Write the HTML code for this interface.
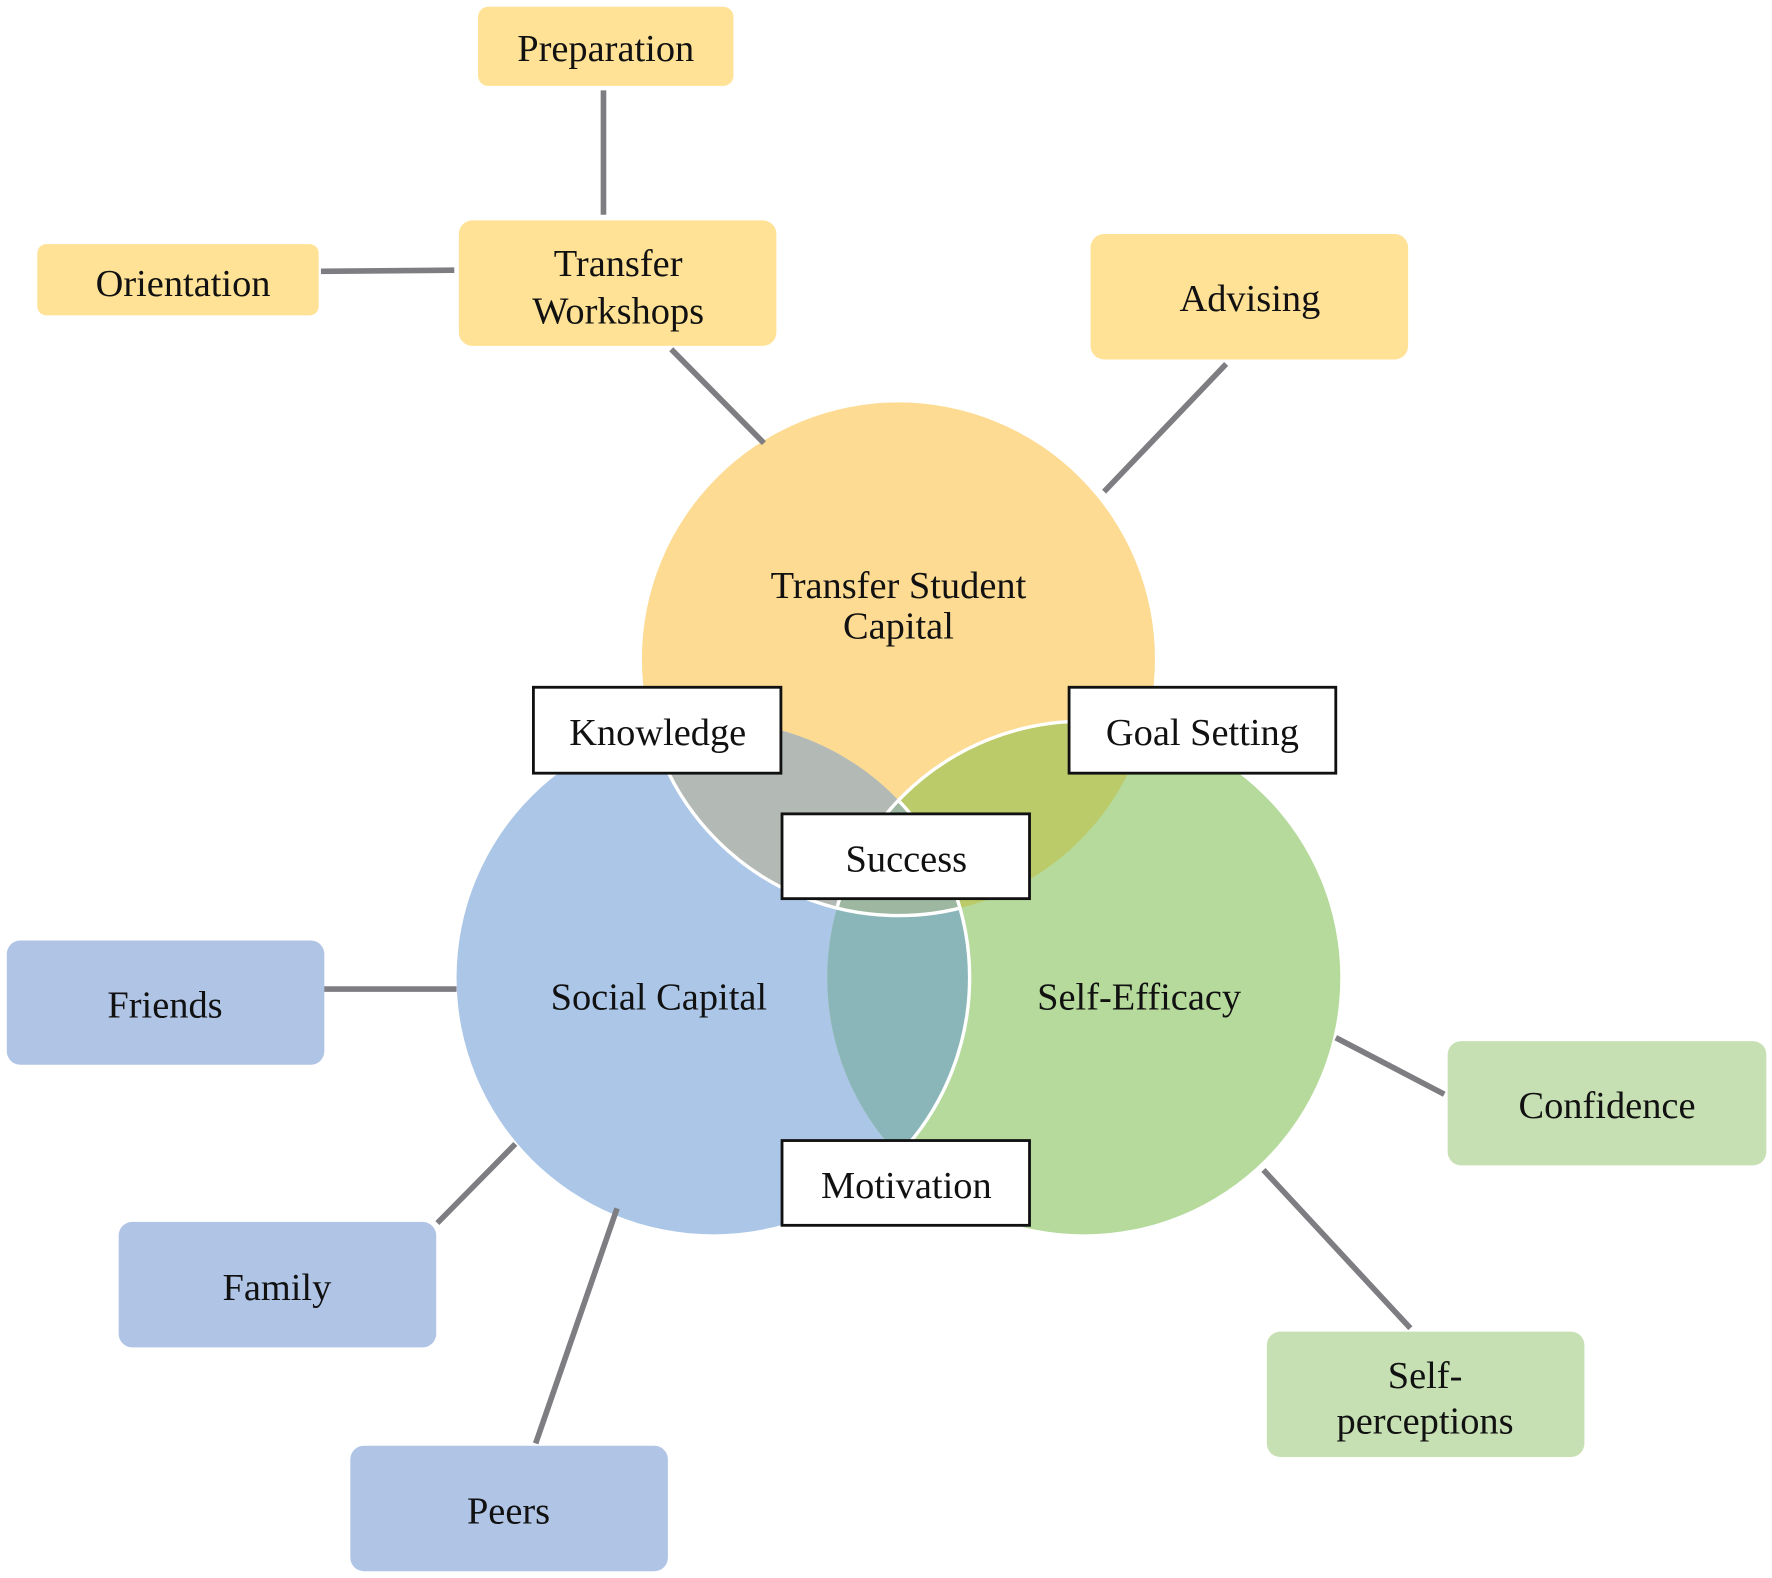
<!DOCTYPE html>
<html><head><meta charset="utf-8"><style>
html,body{margin:0;padding:0;background:#fff;}
svg{display:block;}
text{font-family:"Liberation Serif",serif;font-size:34px;fill:#111;text-anchor:middle;}
</style></head><body>
<svg width="1772" height="1578" viewBox="0 0 1568 1396" preserveAspectRatio="none" xmlns="http://www.w3.org/2000/svg">
<defs>
<clipPath id="cy"><circle cx="795" cy="583" r="227"/></clipPath>
<clipPath id="cb"><circle cx="631" cy="865" r="227"/></clipPath>
<clipPath id="cg"><circle cx="959" cy="865" r="227"/></clipPath>
</defs>
<circle cx="795" cy="583" r="227" fill="#FDDB92"/>
<circle cx="631" cy="865" r="227" fill="#ABC6E7"/>
<circle cx="959" cy="865" r="227" fill="#B5DA9C"/>
<g clip-path="url(#cb)"><circle cx="795" cy="583" r="227" fill="#B3B9B5"/></g>
<g clip-path="url(#cg)"><circle cx="795" cy="583" r="227" fill="#BCCB6A"/></g>
<g clip-path="url(#cg)"><circle cx="631" cy="865" r="227" fill="#8BB6B9"/></g>
<g clip-path="url(#cg)"><g clip-path="url(#cb)"><circle cx="795" cy="583" r="227" fill="#9DB7A0"/></g></g>
<g clip-path="url(#cb)"><circle cx="795" cy="583" r="227" fill="none" stroke="#fff" stroke-width="3"/></g>
<g clip-path="url(#cy)"><circle cx="959" cy="865" r="227" fill="none" stroke="#fff" stroke-width="3"/></g>
<g clip-path="url(#cg)"><circle cx="631" cy="865" r="227" fill="none" stroke="#fff" stroke-width="3"/></g>

<g stroke="#7E7E82" stroke-width="5">
<line x1="534" y1="80" x2="534" y2="190"/>
<line x1="284" y1="240" x2="402" y2="239"/>
<line x1="594" y1="309" x2="676" y2="392"/>
<line x1="1085" y1="322" x2="977" y2="435"/>
<line x1="285" y1="875" x2="404" y2="875"/>
<line x1="456" y1="1012" x2="387" y2="1082"/>
<line x1="546" y1="1069" x2="474" y2="1277"/>
<line x1="1182" y1="918" x2="1278" y2="968"/>
<line x1="1118" y1="1035" x2="1248" y2="1175"/>
</g>

<g fill="#FFE296">
<rect x="423" y="6" width="226" height="70" rx="9"/>
<rect x="406" y="195" width="281" height="111" rx="12"/>
<rect x="33" y="216" width="249" height="63" rx="8"/>
<rect x="965" y="207" width="281" height="111" rx="12"/>
</g>
<g fill="#B0C4E6">
<rect x="6" y="832" width="281" height="110" rx="12"/>
<rect x="105" y="1081" width="281" height="111" rx="12"/>
<rect x="310" y="1279" width="281" height="111" rx="12"/>
</g>
<g fill="#C6E0B4">
<rect x="1281" y="921" width="282" height="110" rx="12"/>
<rect x="1121" y="1178" width="281" height="111" rx="12"/>
</g>
<g fill="#fff" stroke="#111" stroke-width="2.5">
<rect x="472" y="608" width="219" height="76"/>
<rect x="946" y="608" width="236" height="76"/>
<rect x="692" y="720" width="219" height="75"/>
<rect x="692" y="1009" width="219" height="75"/>
</g>

<text x="536" y="54">Preparation</text>
<text x="547" y="244">Transfer</text>
<text x="547" y="286">Workshops</text>
<text x="162" y="262">Orientation</text>
<text x="1106" y="275">Advising</text>
<text x="146" y="900">Friends</text>
<text x="245" y="1150">Family</text>
<text x="450" y="1348">Peers</text>
<text x="1422" y="989">Confidence</text>
<text x="1261" y="1228">Self-</text>
<text x="1261" y="1268">perceptions</text>
<text x="795" y="529">Transfer Student</text>
<text x="795" y="565">Capital</text>
<text x="583" y="893">Social Capital</text>
<text x="1008" y="893">Self-Efficacy</text>
<text x="582" y="659">Knowledge</text>
<text x="1064" y="659">Goal Setting</text>
<text x="802" y="771">Success</text>
<text x="802" y="1060">Motivation</text>
</svg>
</body></html>
